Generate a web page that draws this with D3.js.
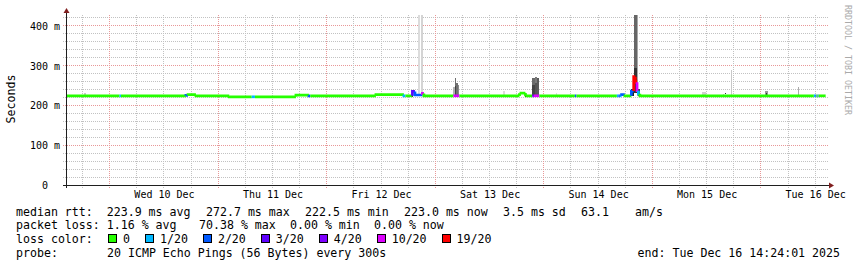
<!DOCTYPE html>
<html>
<head>
<meta charset="utf-8">
<title>smokeping</title>
<style>
  body { margin: 0; background: #fff; }
  svg text { font-family: "DejaVu Sans Mono", monospace; fill: #000; white-space: pre; }
</style>
<script src="https://d3js.org/d3.v7.min.js"></script>
</head>
<body>
<svg id="chart" width="857" height="267"></svg>
<script>
// graph covers 7 days ending Tue Dec 16 14:24:01 2025
const endTime = Date.UTC(2025, 11, 16, 14, 24, 1);
const spanHours = 168;

// median rtt: hours after graph start where each step begins (last entry = end of data)
const medHours = [0, 11.76, 12.09, 26.46, 26.91, 28.67, 36.04, 40.99, 41.72, 50.78,
  53.66, 53.95, 68.47, 74.66, 75.0, 76.54, 77.1, 78.75, 79.08, 85.61,
  86.93, 100.2, 100.53, 101.53, 101.86, 103.03, 103.41, 104.62, 112.47, 112.8,
  121.75, 122.08, 122.42, 122.79, 123.52, 124.96, 125.47, 125.84, 125.95, 126.22,
  126.51, 126.84, 165.31, 165.64, 165.86, 166.13, 166.35, 167.92];
// median value of each step (ms)
const medMs = [224, 224, 224, 225, 227, 224, 221.5, 221.5, 221.5, 225.5,
  224, 224, 227, 224, 224, 235, 226, 230, 224, 224,
  224, 227, 231, 226, 224, 224, 224, 224, 224, 224,
  224, 224, 224, 227, 224, 236, 272, 265, 258, 237,
  229, 224, 224, 224, 224, 224, 224];
// lost pings (of 20) for each step
const medLoss = [0, 1, 0, 2, 0, 0, 0, 1, 0, 0,
  2, 0, 0, 1, 0, 3, 2, 10, 0, 10,
  0, 0, 0, 0, 0, 4, 10, 0, 2, 0,
  1, 2, 1, 2, 0, 2, 19, 19, 19, 10,
  1, 0, 1, 2, 0, 2, 0];

// smoke (spread of the 20 pings): start / end hour, low / high ms, shade
const smokeFrom = [3.91, 76.43, 77.69, 78.49, 85.61, 85.94, 85.94, 86.27, 86.60, 96.48,
  101.53, 103.07, 103.07, 103.63, 103.63, 104.18, 108.27, 124.96, 125.51, 125.51,
  126.22, 126.44, 140.48, 145.19, 145.74, 146.96, 154.59, 154.81, 161.71];
const smokeTo = [4.36, 76.65, 78.27, 78.80, 85.94, 86.27, 86.27, 86.60, 86.93, 96.99,
  101.75, 103.63, 103.63, 104.18, 104.18, 104.62, 108.49, 125.51, 126.22, 126.22,
  126.44, 126.84, 141.37, 145.41, 145.96, 147.18, 155.14, 155.03, 162.0];
const smokeLo = [224, 222, 224, 224, 224, 224, 224, 224, 224, 224,
  220, 224, 224, 224, 224, 224, 224, 224, 240, 232,
  224, 224, 224, 224, 228, 218, 222, 224, 226];
const smokeHi = [231, 236, 427, 427, 245, 268, 248, 255, 250, 236,
  230, 268, 250, 272, 255, 270, 230, 240, 427, 295,
  427, 240, 234, 228, 231, 289, 236, 230, 247];
const smokeShade = ["#c8c8c8", "#222222", "#dcdcdc", "#d4d4d4", "#b4b4b4", "#6e6e6e", "#444444", "#707070", "#8a8a8a", "#dcdcdc",
  "#222222", "#6a6a6a", "#444444", "#7a7a7a", "#555555", "#5a5a5a", "#dddddd", "#222222", "#666666", "#333333",
  "#a8a8a8", "#444444", "#d0d0d0", "#cccccc", "#333333", "#c8c8c8", "#999999", "#333333", "#aaaaaa"];

const yTicks = [0, 100, 200, 300, 400];
const yTickLabels = ["0  ", "100 m", "200 m", "300 m", "400 m"];
const dayLabels = ["Wed 10 Dec", "Thu 11 Dec", "Fri 12 Dec", "Sat 13 Dec", "Sun 14 Dec", "Mon 15 Dec", "Tue 16 Dec"];

const lossSteps = [1, 2, 3, 4, 10, 19];
const lossLabels = ["0", "1/20", "2/20", "3/20", "4/20", "10/20", "19/20"];
const lossColors = ["#26ff00", "#00b8ff", "#0059ff", "#5e00ff", "#7e00ff", "#dd00ff", "#ff0000"];

const rttStats = ["median rtt:  223.9 ms avg", "272.7 ms max", "222.5 ms min", "223.0 ms now", "3.5 ms sd", "63.1", "am/s"];
const lossStats = ["packet loss: 1.16 % avg", "70.38 % max", "0.00 % min", "0.00 % now"];
const probeText = ["probe:", "20 ICMP Echo Pings (56 Bytes) every 300s"];
const endText = "end: Tue Dec 16 14:24:01 2025";

// ---- layout
const svg = d3.select("#chart");
const startTime = endTime - spanHours * 3600e3;
const hr = h => new Date(startTime + h * 3600e3);

const x = d3.scaleUtc().domain([new Date(startTime), new Date(endTime)]).range([66.3, 826]);
const y = d3.scaleLinear().domain([0, 430]).range([185, 13.8]);
const lossColor = d3.scaleThreshold().domain(lossSteps).range(lossColors);
const px = v => Math.floor(v) + 0.5;

const minorColor = "#c2c2c2", majorColor = "#e89898";

// grid
const grid = svg.append("g");
grid.selectAll("line.h")
  .data(d3.range(20, 430, 20))
  .join("line")
  .attr("x1", 63).attr("x2", 829)
  .attr("y1", d => px(y(d))).attr("y2", d => px(y(d)))
  .attr("stroke", d => d % 100 === 0 ? majorColor : minorColor)
  .attr("stroke-dasharray", "1,1");

grid.selectAll("line.v")
  .data(d3.utcHour.every(6).range(new Date(startTime), new Date(endTime)))
  .join("line")
  .attr("x1", d => px(x(d))).attr("x2", d => px(x(d)))
  .attr("y1", 188).attr("y2", 14)
  .attr("stroke", d => d.getUTCHours() === 0 ? majorColor : minorColor)
  .attr("stroke-dasharray", "1,1");

// smoke
svg.append("g")
  .attr("shape-rendering", "crispEdges")
  .selectAll("rect")
  .data(smokeFrom.map((f, i) => i))
  .join("rect")
  .attr("x", i => x(hr(smokeFrom[i])))
  .attr("width", i => Math.max(1, x(hr(smokeTo[i])) - x(hr(smokeFrom[i]))))
  .attr("y", i => y(smokeHi[i]))
  .attr("height", i => y(smokeLo[i]) - y(smokeHi[i]))
  .attr("fill", i => smokeShade[i]);

// median line, coloured by loss
const segs = medMs.map((v, i) => i);
svg.append("g")
  .selectAll("path")
  .data(segs)
  .join("path")
  .attr("d", i => {
    const x0 = x(hr(medHours[i])), x1 = x(hr(medHours[i + 1]));
    const prev = i > 0 ? y(medMs[i - 1]) : y(medMs[i]);
    return "M" + x0 + "," + prev + "V" + y(medMs[i]) + "H" + x1;
  })
  .attr("fill", "none")
  .attr("stroke", i => lossColor(medLoss[i]))
  .attr("stroke-width", 2.7);

// axes
svg.append("line").attr("x1", 63).attr("x2", 830).attr("y1", 185.5).attr("y2", 185.5)
  .attr("stroke", "#1f1f1f");
svg.append("line").attr("x1", 66.5).attr("x2", 66.5).attr("y1", 188).attr("y2", 12)
  .attr("stroke", "#1f1f1f");
svg.append("path").attr("d", "M829,182.5L834,185.5L829,188.5Z").attr("fill", "#801f1f");
svg.append("path").attr("d", "M63.5,13L66.5,8L69.5,13Z").attr("fill", "#801f1f");

const yAxis = svg.append("g")
  .attr("transform", "translate(63,0)")
  .call(d3.axisLeft(y).tickValues(yTicks).tickSize(0).tickPadding(3)
    .tickFormat((d, i) => yTickLabels[i]));
yAxis.select(".domain").remove();
yAxis.selectAll("text")
  .attr("font-family", "DejaVu Sans Mono")
  .attr("font-size", 10)
  .attr("dy", "0.36em");

const noons = dayLabels.map((d, i) => new Date(Date.UTC(2025, 11, 10 + i, 12)));
const xAxis = svg.append("g")
  .attr("transform", "translate(0,185)")
  .call(d3.axisBottom(x).tickValues(noons).tickSize(0).tickPadding(6)
    .tickFormat((d, i) => dayLabels[i]));
xAxis.select(".domain").remove();
xAxis.selectAll("text")
  .attr("font-family", "DejaVu Sans Mono")
  .attr("font-size", 10);

// titles
svg.append("text")
  .attr("transform", "translate(15,99) rotate(-90)")
  .attr("text-anchor", "middle")
  .attr("font-size", 11.6)
  .text("Seconds");

svg.append("text")
  .attr("transform", "translate(845,5) rotate(90)")
  .attr("font-size", 8.3)
  .style("fill", "#aaaaaa")
  .text("RRDTOOL / TOBI OETIKER");

// legend
const legend = svg.append("g").attr("font-size", 11.6);
const rowY = [215.5, 229.3, 243.3, 257.3];
const rttX = [16, 206, 305, 404, 503, 581, 635];
const lossX = [16, 199, 290, 374];

legend.selectAll("text.rtt").data(rttStats).join("text")
  .attr("x", (d, i) => rttX[i]).attr("y", rowY[0]).text(d => d);
legend.selectAll("text.loss").data(lossStats).join("text")
  .attr("x", (d, i) => lossX[i]).attr("y", rowY[1]).text(d => d);

legend.append("text").attr("x", 16).attr("y", rowY[2]).text("loss color:");
let lx = 108.7;
lossLabels.forEach((lab, i) => {
  legend.append("rect")
    .attr("x", Math.floor(lx) + 0.5).attr("y", 234.5)
    .attr("width", 8).attr("height", 8)
    .attr("fill", lossColors[i]).attr("stroke", "#000");
  const t = legend.append("text").attr("x", lx + 14.3).attr("y", rowY[2]).text(lab);
  lx = lx + 14.3 + t.node().getComputedTextLength() + 15.7;
});

legend.append("text").attr("x", 16).attr("y", rowY[3]).text(probeText[0]);
legend.append("text").attr("x", 107).attr("y", rowY[3]).text(probeText[1]);
legend.append("text").attr("x", 840).attr("y", rowY[3]).attr("text-anchor", "end").text(endText);
</script>
</body>
</html>
